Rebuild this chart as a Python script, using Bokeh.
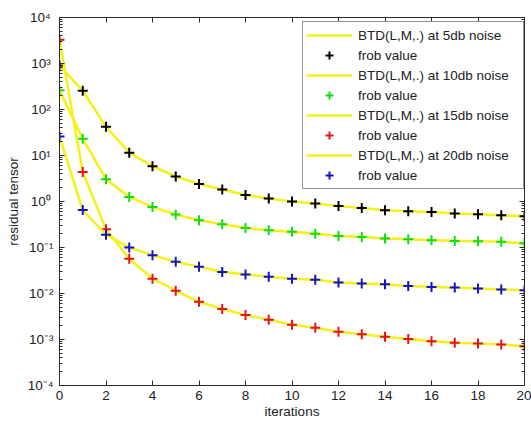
from bokeh.plotting import figure
from bokeh.models import (LinearAxis, LogAxis, FixedTicker, Legend, LegendItem, Range1d,
                          CustomJSTickFormatter)
from bokeh.embed import file_html
from bokeh.resources import INLINE

iterations = list(range(21))
noise_5db = [910, 255, 42, 11.5, 5.85, 3.5, 2.4, 1.82, 1.39, 1.16, 1.0, 0.905, 0.80,
             0.72, 0.645, 0.615, 0.59, 0.55, 0.53, 0.50, 0.48]
noise_10db = [263, 23, 3.05, 1.26, 0.76, 0.52, 0.39, 0.32, 0.267, 0.238, 0.219, 0.20,
              0.178, 0.17, 0.157, 0.152, 0.144, 0.139, 0.137, 0.133, 0.123]
noise_15db = [3300, 4.4, 0.25, 0.057, 0.021, 0.0115, 0.0066, 0.0046, 0.0034, 0.0027,
              0.0021, 0.0018, 0.00148, 0.0013, 0.00115, 0.00102, 0.00092, 0.00085,
              0.00082, 0.00078, 0.00071]
noise_20db = [26, 0.65, 0.19, 0.10, 0.068, 0.049, 0.038, 0.0295, 0.026, 0.023, 0.021,
              0.020, 0.0173, 0.0165, 0.0158, 0.0146, 0.0139, 0.0135, 0.0128, 0.0122, 0.0118]

series_labels = ["BTD(L,M,.) at 5db noise", "BTD(L,M,.) at 10db noise",
                 "BTD(L,M,.) at 15db noise", "BTD(L,M,.) at 20db noise"]
marker_label = "frob value"
marker_colors = ["#000000", "#12dd12", "#e81414", "#1414c8"]
line_color = "#f5f020"

x_ticks = [0, 2, 4, 6, 8, 10, 12, 14, 16, 18, 20]
y_exponents = [-4, -3, -2, -1, 0, 1, 2, 3, 4]
sup = str.maketrans("-0123456789", "⁻⁰¹²³⁴⁵⁶⁷⁸⁹")

FONT = "Liberation Sans"
TXT = "#222222"
AX = "#2a2a2a"
FS = "13.5px"

p = figure(width=531, height=425, y_axis_type="log", output_backend="svg",
           toolbar_location=None, x_range=Range1d(0, 20), y_range=Range1d(1e-4, 1e4),
           min_border_left=59, min_border_right=7, min_border_top=17, min_border_bottom=40)
p.background_fill_color = "white"
p.border_fill_color = "white"
p.outline_line_color = AX
p.xgrid.visible = False
p.ygrid.visible = False

y_major = [10.0 ** e for e in y_exponents]
y_minor = [m * 10.0 ** e for e in y_exponents[:-1] for m in range(2, 10)]
y_overrides = {}
for e in y_exponents:
    lab = "10" + str(e).translate(sup)
    if e >= 0:
        lab += "\u2009"
    y_overrides[10.0 ** e] = lab

def style_axis(ax, labels=True):
    ax.axis_line_color = AX
    ax.major_tick_line_color = AX
    ax.minor_tick_line_color = AX
    ax.major_tick_in = 5
    ax.major_tick_out = 0
    ax.minor_tick_in = 3
    ax.minor_tick_out = 0
    ax.major_label_text_font = FONT
    ax.major_label_text_color = TXT
    ax.axis_label_text_font = FONT
    ax.axis_label_text_font_style = "normal"
    ax.axis_label_text_color = TXT
    ax.major_label_text_font_size = FS
    ax.axis_label_text_font_size = FS
    if not labels:
        ax.formatter = CustomJSTickFormatter(code="return ''")
        ax.major_label_standoff = 0

xax = p.xaxis[0]
xax.ticker = FixedTicker(ticks=x_ticks)
xax.axis_label = "iterations"
xax.major_label_standoff = 5
xax.axis_label_standoff = 1
style_axis(xax)

yax = p.yaxis[0]
yax.ticker = FixedTicker(ticks=y_major, minor_ticks=y_minor)
yax.major_label_overrides = y_overrides
yax.axis_label = "residual tensor"
yax.major_label_standoff = 6
yax.axis_label_standoff = 4
style_axis(yax)

top = LinearAxis(ticker=FixedTicker(ticks=x_ticks))
style_axis(top, labels=False)
p.add_layout(top, "above")
right = LogAxis(ticker=FixedTicker(ticks=y_major, minor_ticks=y_minor))
style_axis(right, labels=False)
p.add_layout(right, "right")

items = []
for lab, vals, col in zip(series_labels,
                          [noise_5db, noise_10db, noise_15db, noise_20db], marker_colors):
    rl = p.line(iterations, vals, line_color=line_color, line_width=2.6)
    rm = p.scatter(iterations, vals, marker="cross", size=10, line_width=2, line_color=col)
    items.append(LegendItem(label=lab, renderers=[rl]))
    items.append(LegendItem(label=marker_label, renderers=[rm]))

legend = Legend(items=items, location=(243, 196), margin=0, padding=3, spacing=0,
                glyph_width=46, glyph_height=20, label_height=20, label_width=162,
                label_standoff=6, label_text_font=FONT, label_text_font_size=FS,
                label_text_color=TXT, border_line_color=AX, border_line_width=1,
                background_fill_color="white", background_fill_alpha=1.0)
p.add_layout(legend, "center")

open("out.html", "w").write(file_html(p, INLINE))
